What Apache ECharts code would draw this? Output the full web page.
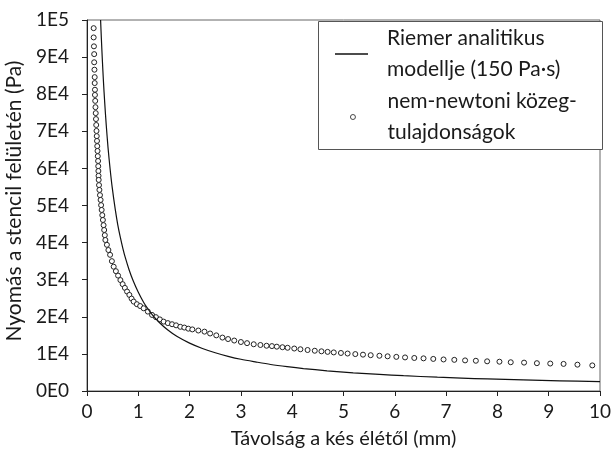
<!DOCTYPE html>
<html>
<head>
<meta charset="utf-8">
<script src="https://cdn.jsdelivr.net/npm/echarts@6/dist/echarts.min.js"></script>
<style>
  html, body { margin: 0; padding: 0; background: #fff; }
  #chart { width: 613px; height: 455px; }
</style>
</head>
<body>
<div id="chart"></div>
<script>
// Riemer analitikus modell (folytonos vonal)
var riemerX = [0.265, 0.28, 0.30, 0.32, 0.345, 0.375, 0.41, 0.45, 0.49, 0.55, 0.60, 0.65, 0.70, 0.75, 0.82, 0.90, 1.00, 1.10, 1.20, 1.27, 1.40, 1.57, 1.75, 2.0, 2.25, 2.5, 2.75, 3.0, 3.3, 3.58, 3.9, 4.22, 4.68, 5.19, 5.7, 6.17, 6.83, 7.3, 7.8, 8.5, 9.22, 10];
var riemerY = [100000, 95000, 89000, 83600, 77800, 71700, 65600, 59900, 55000, 49000, 44800, 41400, 38400, 35800, 32700, 29700, 26600, 24000, 21900, 20600, 18600, 16500, 14750, 12900, 11450, 10300, 9350, 8550, 7800, 7150, 6560, 6050, 5450, 4900, 4480, 4120, 3720, 3480, 3250, 2980, 2750, 2530];

// nem-newtoni közeg (karikák)
var mediumX = [
  0.13, 0.13, 0.135, 0.14, 0.14, 0.145, 0.15, 0.15, 0.155,
  0.155, 0.16, 0.165, 0.17, 0.175, 0.18, 0.185, 0.19, 0.195, 0.20, 0.205, 0.21, 0.216, 0.219, 0.222, 0.225, 0.228,
  0.234, 0.242, 0.253, 0.265, 0.275, 0.286, 0.298, 0.31, 0.323, 0.335, 0.347, 0.358,
  0.388, 0.417, 0.45, 0.485, 0.52, 0.563, 0.606, 0.651,
  0.695, 0.738, 0.781, 0.826, 0.869, 0.91, 0.972, 1.036, 1.104,
  1.186, 1.268, 1.344, 1.42, 1.494, 1.576, 1.658, 1.737, 1.819, 1.897, 1.975, 2.053,
  2.17, 2.29, 2.40, 2.52, 2.64, 2.75, 2.87, 3.0, 3.12, 3.25, 3.38, 3.50,
  3.605, 3.70, 3.81, 3.91, 4.04, 4.16, 4.30, 4.44, 4.57, 4.69, 4.81, 4.95, 5.08, 5.23, 5.38, 5.53, 5.70, 5.86,
  6.03, 6.20, 6.38, 6.56, 6.75, 6.95, 7.16, 7.37, 7.58, 7.80, 8.04, 8.26, 8.52, 8.77, 9.03, 9.29, 9.56, 9.85
];
var mediumY = [
  97800, 95300, 92900, 90800, 88600, 86600, 84600, 83000, 81200,
  79800, 78200, 76500, 74900, 73300, 71700, 70100, 68700, 67400, 66000, 64700, 63300, 62000, 60600, 59300, 58000, 56900,
  55500, 54200, 52800, 51500, 50100, 48800, 47400, 46100, 44700, 43400, 42000, 40700,
  39400, 38000, 36700, 35000, 33500, 32300, 31100, 29900,
  28800, 27800, 26800, 25900, 24900, 24100, 23400, 22900, 22300,
  21400, 20500, 19900, 19300, 18700, 18300, 18000, 17700, 17300, 17100, 16800, 16600,
  16300, 16000, 15500, 15000, 14400, 14000, 13600, 13200, 12900, 12600, 12400, 12200,
  12100, 11950, 11800, 11650, 11450, 11250, 11050, 10850, 10700, 10550, 10400, 10250, 10100, 9950, 9800, 9650, 9500, 9350,
  9200, 9050, 8900, 8800, 8650, 8500, 8400, 8250, 8150, 8000, 7900, 7750, 7650, 7500, 7400, 7300, 7100, 6900
];

var riemerName = 'Riemer analitikus\nmodellje (150 Pa·s)';
var mediumName = 'nem-newtoni közeg-\ntulajdonságok';

var fontFam = 'Lato, "Open Sans", sans-serif';
var ink = '#1a1a1a';

function pairs(xs, ys) {
  var out = [];
  for (var i = 0; i < xs.length; i++) out.push([xs[i], ys[i]]);
  return out;
}

var chart = echarts.init(document.getElementById('chart'), null, { renderer: 'canvas' });

chart.setOption({
  animation: false,
  backgroundColor: '#fff',
  textStyle: { fontFamily: fontFam, color: ink },
  grid: {
    left: 87, right: 13, top: 20, bottom: 64,
    containLabel: false,
    outerBoundsMode: 'none',
    show: true, borderColor: '#666', borderWidth: 1
  },
  // keret a jelmagyarázat körül
  graphic: [{
    type: 'rect',
    z: 5,
    shape: { x: 318.5, y: 21.5, width: 284, height: 128 },
    style: { fill: '#fff', stroke: '#555', lineWidth: 1 }
  }],
  legend: [{
    z: 10,
    selectedMode: false,
    left: 335, top: 23, padding: 0,
    itemWidth: 33, itemHeight: 1.4,
    data: [{ name: riemerName, icon: 'rect' }],
    itemStyle: { color: '#111', borderWidth: 0 },
    textStyle: { fontSize: 21, lineHeight: 31, color: ink, fontFamily: fontFam, padding: [0, 0, 0, 14] }
  }, {
    z: 10,
    selectedMode: false,
    left: 350, top: 86, padding: 0,
    itemWidth: 5, itemHeight: 5,
    data: [mediumName],
    itemStyle: { color: '#fff', borderColor: '#333', borderWidth: 0.9 },
    textStyle: { fontSize: 21, lineHeight: 31, color: ink, fontFamily: fontFam, padding: [0, 0, 0, 27] }
  }],
  xAxis: {
    type: 'value',
    min: 0, max: 10, interval: 1,
    name: 'Távolság a kés élétől (mm)',
    nameLocation: 'middle',
    nameGap: 38,
    nameTextStyle: { fontSize: 20, color: ink, fontFamily: fontFam },
    axisLine: { lineStyle: { color: '#222', width: 1 } },
    axisTick: { show: true, inside: false, length: 5, lineStyle: { color: '#222' } },
    axisLabel: { fontSize: 19, color: ink, fontFamily: fontFam, margin: 11 },
    splitLine: { show: false }
  },
  yAxis: {
    type: 'value',
    min: 0, max: 100000, interval: 10000,
    name: 'Nyomás a stencil felületén (Pa)',
    nameLocation: 'middle',
    nameGap: 57,
    nameTextStyle: { fontSize: 21, color: ink, fontFamily: fontFam, padding: [0, 0, 0, 9] },
    axisLine: { show: true, lineStyle: { color: '#222', width: 1 } },
    axisTick: { show: true, inside: false, length: 5, lineStyle: { color: '#222' } },
    axisLabel: {
      fontSize: 19, color: ink, fontFamily: fontFam, margin: 18,
      formatter: function (v) {
        if (v === 0) return '0E0';
        if (v === 100000) return '1E5';
        return (v / 10000) + 'E4';
      }
    },
    splitLine: { show: false }
  },
  series: [{
    name: riemerName,
    type: 'line',
    symbol: 'none',
    smooth: 0.3,
    clip: true,
    lineStyle: { color: '#111', width: 1.2 },
    itemStyle: { color: '#111' },
    data: pairs(riemerX, riemerY)
  }, {
    name: mediumName,
    type: 'scatter',
    symbol: 'circle',
    symbolSize: 5,
    itemStyle: { color: '#fff', borderColor: '#222', borderWidth: 1, opacity: 1 },
    data: pairs(mediumX, mediumY)
  }]
});
</script>
</body>
</html>
